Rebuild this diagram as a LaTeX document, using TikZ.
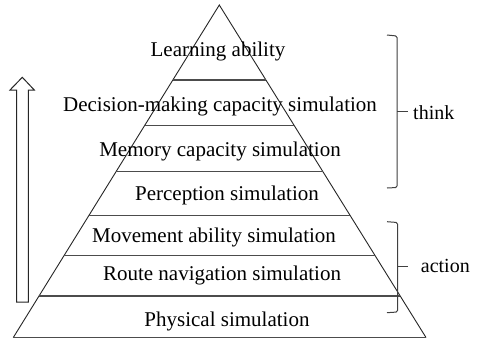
\documentclass[tikz,border=0pt]{standalone}
\usepackage{fontspec}
\setmainfont{Liberation Serif}
\usetikzlibrary{calc}
\begin{document}
\begin{tikzpicture}[x=1pt,y=-1pt,
  edge/.style={draw=black!85,line width=0.9pt},
  layer/.style={draw=black!70,line width=1.1pt},
  lbl/.style={font=\fontsize{21}{24}\selectfont,inner sep=0pt,anchor=center},
  side/.style={font=\fontsize{20}{23}\selectfont,inner sep=0pt,anchor=west},
  bracestyle/.style={draw=black!75,line width=1pt,rounded corners=1.5pt}]
\useasboundingbox[fill=white] (0,0) rectangle (479,341);
% pyramid
\coordinate (apex) at (219.3,5);
\coordinate (bl) at (13.3,337.5);
\coordinate (br) at (426,337.5);
\draw[edge] (bl) -- (apex) -- (br);
\draw[layer] (bl) -- (br);
\foreach \t in {0.2256,0.3630,0.5002,0.6337,0.7528,0.8752}
  \draw[layer] ($(apex)!\t!(bl)$) -- ($(apex)!\t!(br)$);
% labels
\node[lbl] (l1) at (218,51.7) {Learning ability};
\node[lbl] (l2) at (220,106) {Decision-making capacity simulation};
\node[lbl] (l3) at (220,151.7) {Memory capacity simulation};
\node[lbl] (l4) at (227,195) {Perception simulation};
\node[lbl] (l5) at (214,237.7) {Movement ability simulation};
\node[lbl] (l6) at (222,275) {Route navigation simulation};
\node[lbl] (l7) at (227,321.7) {Physical simulation};
% hollow arrow
\draw[edge,line width=1pt] (16.7,302) -- (16.7,90) -- (10,90) -- (22.3,77.3) -- (34.3,90) -- (28.3,90) -- (28.3,302) -- cycle;
% braces
\node[side] (think) at (413,113) {think};
\node[side] (action) at (420.7,265.7) {action};
\coordinate (tk) at (397,111.7);
\coordinate (ac) at (397.5,266.7);
\draw[bracestyle] (387,35) -- (397,36) -- (397,187.5) -- (387,188);
\draw[bracestyle] (tk) -- (408,111.7);
\draw[bracestyle] (387,221.7) -- (397.5,222.5) -- (397.5,312) -- (387,312.7);
\draw[bracestyle] (ac) -- (408,266.7);
\end{tikzpicture}
\end{document}
